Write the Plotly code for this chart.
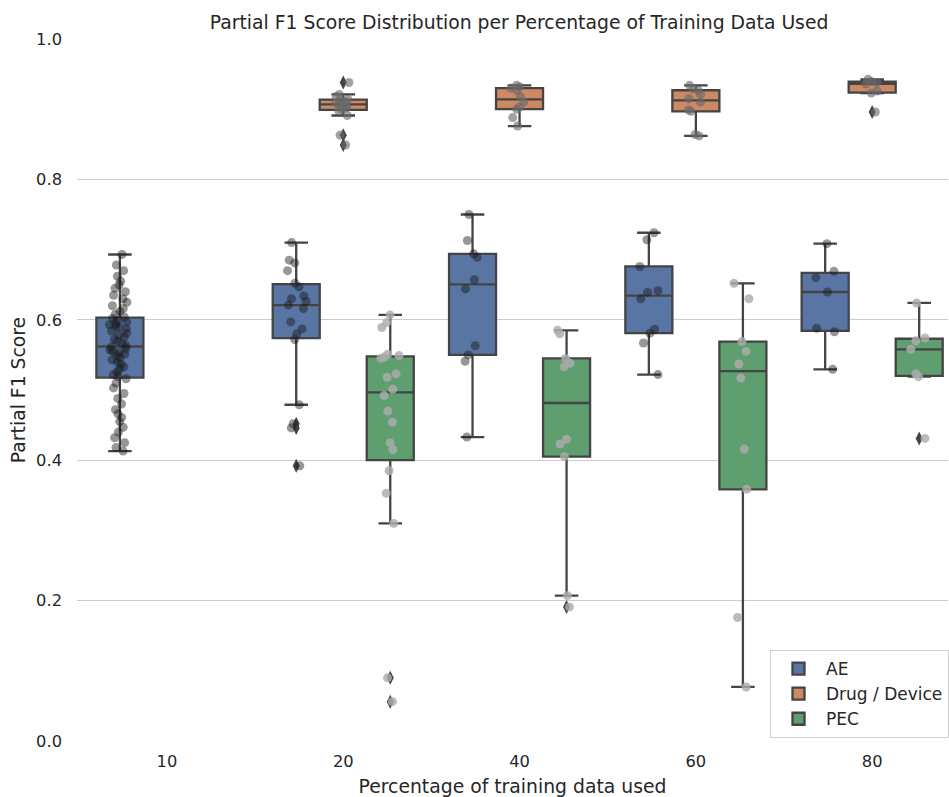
import plotly.graph_objects as go

# ---------------- data ----------------
categories = ["10", "20", "40", "60", "80"]
hue_names = ["AE", "Drug / Device", "PEC"]
hue_colors = ["#5975A4", "#CC8963", "#5F9E6E"]
point_colors = ["rgba(25,25,25,0.45)", "rgba(105,105,105,0.62)", "rgba(172,172,172,0.82)"]

ae_10 = [0.413, 0.418, 0.425, 0.432, 0.440, 0.447, 0.455, 0.461, 0.466, 0.472,
         0.480, 0.488, 0.495, 0.503, 0.510, 0.516, 0.519, 0.522, 0.526, 0.530,
         0.533, 0.537, 0.540, 0.543, 0.546, 0.549, 0.551, 0.553, 0.555, 0.557,
         0.559, 0.561, 0.563, 0.566, 0.569, 0.572, 0.575, 0.578, 0.581, 0.584,
         0.587, 0.589, 0.591, 0.593, 0.595, 0.597, 0.599, 0.602, 0.604, 0.608,
         0.612, 0.616, 0.620, 0.625, 0.630, 0.635, 0.640, 0.645, 0.650, 0.655,
         0.662, 0.670, 0.678, 0.693]
ae_20 = [0.710, 0.685, 0.681, 0.670, 0.652, 0.647, 0.634, 0.630, 0.626, 0.621,
         0.616, 0.597, 0.587, 0.580, 0.572, 0.479, 0.452, 0.446, 0.392]
ae_40 = [0.750, 0.713, 0.694, 0.689, 0.657, 0.644, 0.563, 0.550, 0.541, 0.433]
ae_60 = [0.724, 0.714, 0.676, 0.6415, 0.639, 0.630, 0.5865, 0.581, 0.567, 0.522]
ae_80 = [0.7085, 0.669, 0.660, 0.6396, 0.588, 0.583, 0.5295]

drug_20 = [0.938, 0.921, 0.918, 0.914, 0.913, 0.911, 0.909, 0.908, 0.906, 0.904,
           0.902, 0.900, 0.898, 0.891, 0.863, 0.849]
drug_40 = [0.934, 0.932, 0.930, 0.927, 0.918, 0.910, 0.903, 0.900, 0.888, 0.876]
drug_60 = [0.934, 0.929, 0.927, 0.921, 0.915, 0.910, 0.899, 0.897, 0.864, 0.862]
drug_80 = [0.9425, 0.9395, 0.938, 0.936, 0.926, 0.923, 0.896]

pec_20 = [0.607, 0.596, 0.589, 0.551, 0.549, 0.547, 0.545, 0.523, 0.518, 0.501,
          0.492, 0.470, 0.454, 0.425, 0.415, 0.385, 0.353, 0.310, 0.090, 0.056]
pec_40 = [0.585, 0.580, 0.545, 0.538, 0.533, 0.430, 0.423, 0.405, 0.207, 0.191]
pec_60 = [0.652, 0.630, 0.569, 0.555, 0.537, 0.517, 0.416, 0.3585, 0.176, 0.077]
pec_80 = [0.624, 0.574, 0.570, 0.558, 0.523, 0.519, 0.431]

series = {
    "AE": {"10": ae_10, "20": ae_20, "40": ae_40, "60": ae_60, "80": ae_80},
    "Drug / Device": {"20": drug_20, "40": drug_40, "60": drug_60, "80": drug_80},
    "PEC": {"20": pec_20, "40": pec_40, "60": pec_60, "80": pec_80},
}

# ---------------- figure ----------------
FONT = "DejaVu Sans"
TEXT = "#262626"
EDGE = "#444444"

fig = go.Figure()


def flatten(d):
    xs, ys = [], []
    for c in categories:
        for v in d.get(c, []):
            xs.append(c)
            ys.append(v)
    return xs, ys


# boxes (with outlier diamonds)
for name, color in zip(hue_names, hue_colors):
    xs, ys = flatten(series[name])
    fig.add_trace(go.Box(
        x=xs, y=ys, name=name, offsetgroup=name, legendgroup=name,
        fillcolor=color,
        line=dict(color=EDGE, width=2.3),
        whiskerwidth=0.5,
        boxpoints="outliers",
        marker=dict(symbol="diamond-tall", color=EDGE, size=10,
                    line=dict(width=0)),
        showlegend=True,
    ))

# strip points on top
for name, pcol in zip(hue_names, point_colors):
    xs, ys = flatten(series[name])
    fig.add_trace(go.Box(
        x=xs, y=ys, name=name, offsetgroup=name, legendgroup=name,
        fillcolor="rgba(0,0,0,0)",
        line=dict(color="rgba(0,0,0,0)", width=0),
        boxpoints="all", jitter=0.45, pointpos=0,
        marker=dict(color=pcol, size=9, line=dict(width=0)),
        showlegend=False, hoveron="points",
    ))

fig.update_layout(
    width=949, height=797,
    paper_bgcolor="white", plot_bgcolor="white",
    font=dict(family=FONT, color=TEXT, size=16),
    margin=dict(l=77, r=0, t=39, b=56),
    boxmode="group", boxgap=0.2, boxgroupgap=0.0,
    title=dict(text="Partial F1 Score Distribution per Percentage of Training Data Used",
               x=0.547, xanchor="center", y=1 - 22 / 797, yanchor="middle",
               font=dict(size=18.8, color=TEXT, family=FONT)),
    xaxis=dict(
        type="category", categoryorder="array", categoryarray=categories,
        range=[-0.51, 4.43], showgrid=False, showline=False, zeroline=False,
        ticks="", ticklabelstandoff=9,
        tickfont=dict(size=16.3, color=TEXT),
        title=dict(text="Percentage of training data used",
                   font=dict(size=18.8, color=TEXT), standoff=10),
    ),
    yaxis=dict(
        range=[0, 1], tickvals=[0, 0.2, 0.4, 0.6, 0.8, 1.0], tickformat=".1f",
        showgrid=True, gridcolor="#cccccc", gridwidth=1,
        showline=False, zeroline=False, ticks="", ticklabelstandoff=14,
        tickfont=dict(size=16.3, color=TEXT),
        title=dict(text="Partial F1 Score", font=dict(size=18.8, color=TEXT),
                   standoff=5),
    ),
    legend=dict(
        x=0.796, xanchor="left", y=0.1296, yanchor="top",
        bgcolor="rgba(255,255,255,0.85)", bordercolor="#d0d0d0", borderwidth=1,
        font=dict(size=17, color=TEXT, family=FONT),
        tracegroupgap=0, itemwidth=45,
    ),
)

fig.write_html(
    "out.html",
    config={"displayModeBar": False},
    post_script="document.body.style.margin='0';document.body.style.overflow='hidden';",
)
